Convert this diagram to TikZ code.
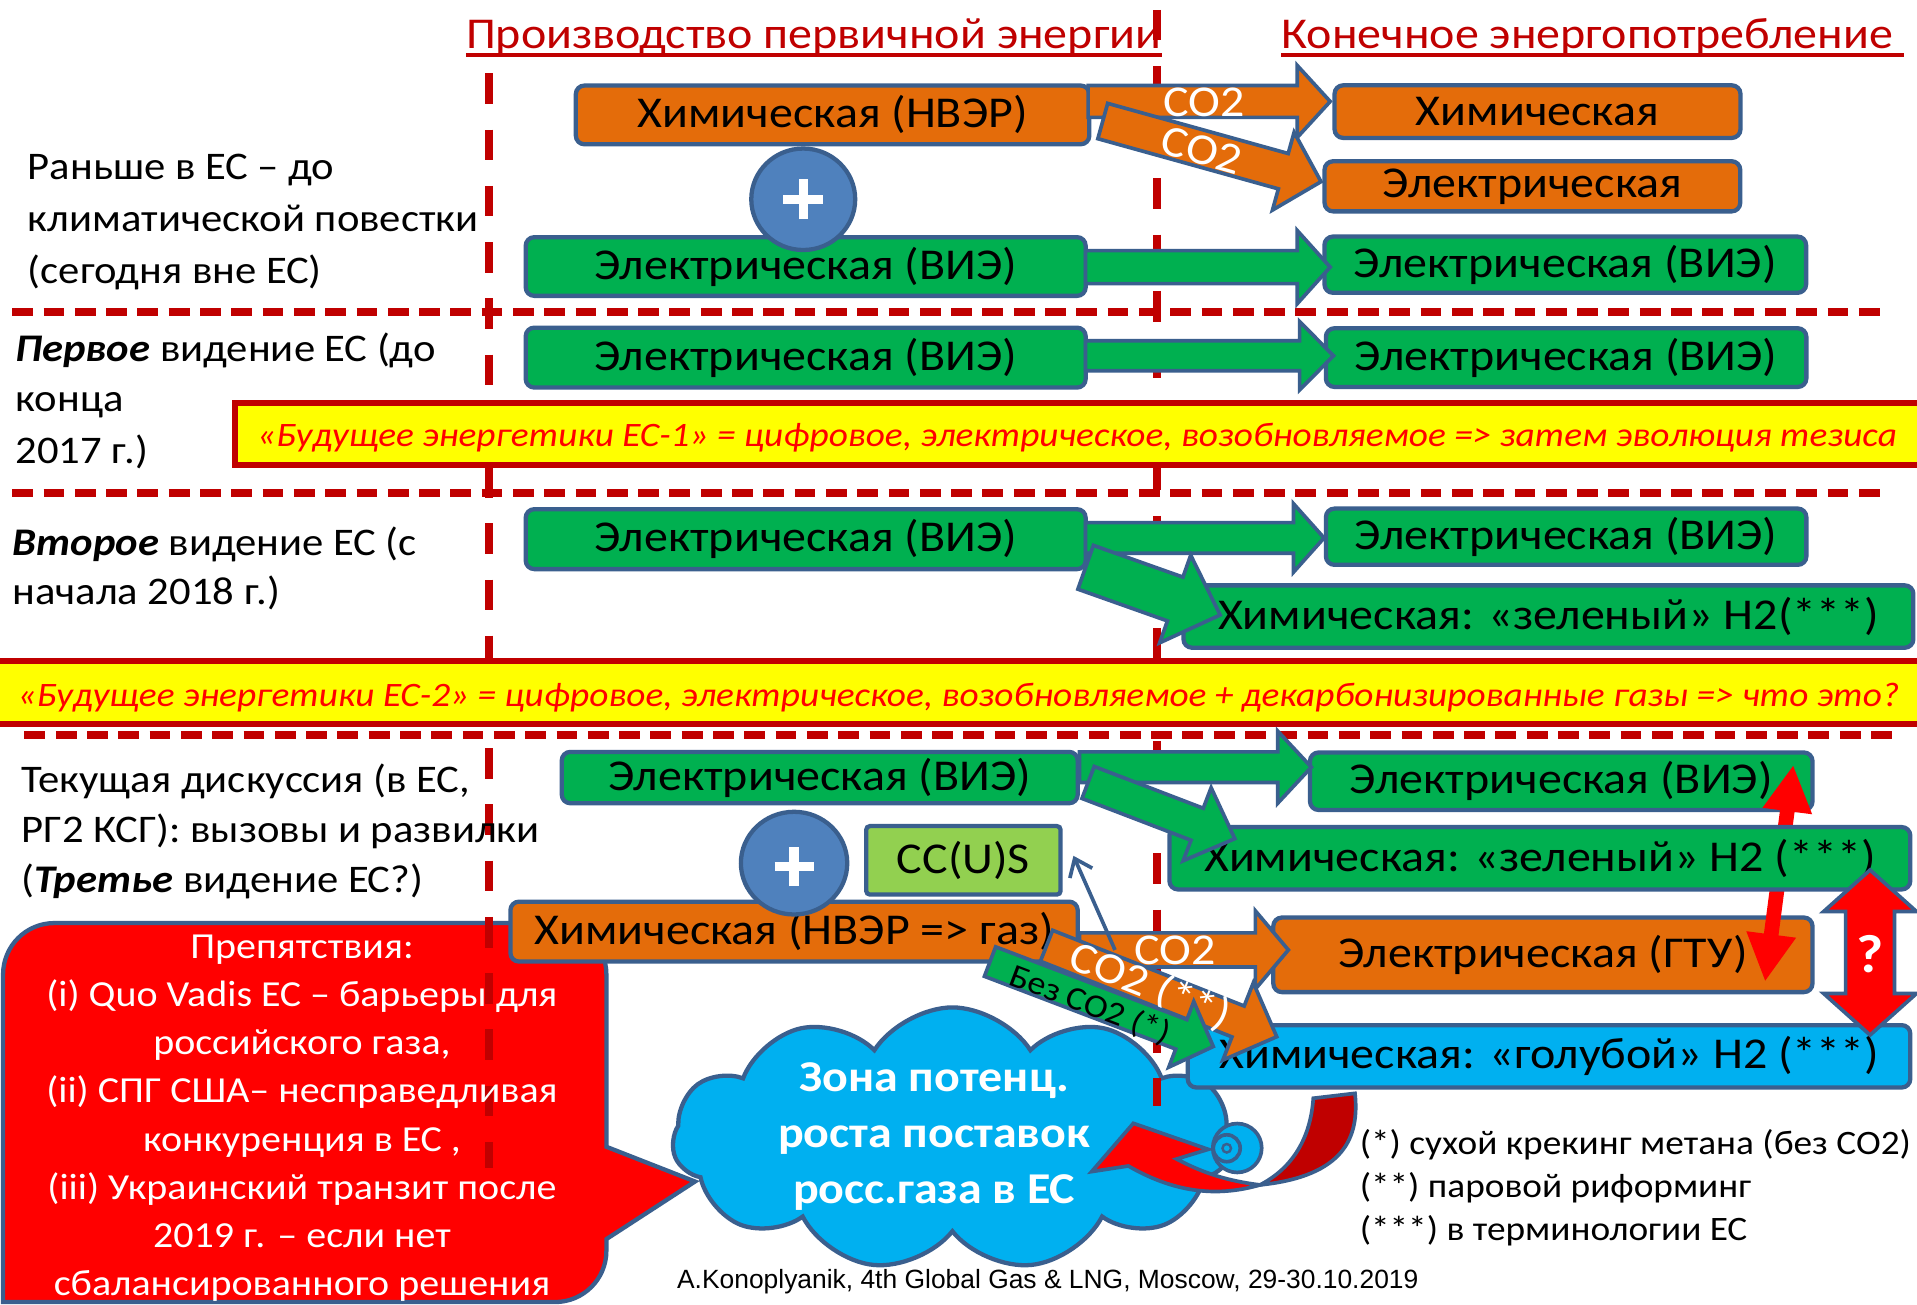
\documentclass[tikz,border=0pt]{standalone}
\usepackage{fontspec}
\setmainfont{Carlito}[FakeStretch=1.09]
\newfontfamily\arialfont{Liberation Sans}
\usetikzlibrary{shapes.geometric,shapes.symbols,arrows.meta,calc}
\definecolor{orng}{HTML}{E46C0A}
\definecolor{grn}{HTML}{00B050}
\definecolor{lgrn}{HTML}{92D050}
\definecolor{cyanb}{HTML}{00B0F0}
\definecolor{pblue}{HTML}{4F81BD}
\definecolor{bord}{HTML}{3A5F8E}
\definecolor{dred}{HTML}{C00000}
\definecolor{bred}{HTML}{FF0000}
\definecolor{yel}{HTML}{FFFF00}
\newcommand\myfs[1]{\fontsize{#1}{#1}\selectfont}
% block arrow: from, to, shaft half width, head half width, head length, fill
\newcommand\barrow[6]{%
  \path (#1); \pgfgetlastxy{\bax}{\bay}%
  \path (#2); \pgfgetlastxy{\bbx}{\bby}%
  \pgfmathsetmacro\bang{atan2((\bby)-(\bay),(\bbx)-(\bax))}%
  \pgfmathsetmacro\blen{veclen((\bbx)-(\bax),(\bby)-(\bay))}%
  \draw[blockarrow, fill=#6, shift={(\bax,\bay)}, rotate=\bang]
    (0,#3) -- ({\blen-#5},#3) -- ({\blen-#5},#4) -- (\blen,0) -- ({\blen-#5},-#4) -- ({\blen-#5},-#3) -- (0,-#3) -- cycle;%
}
% double block arrow
\newcommand\dbarrow[6]{%
  \path (#1); \pgfgetlastxy{\bax}{\bay}%
  \path (#2); \pgfgetlastxy{\bbx}{\bby}%
  \pgfmathsetmacro\bang{atan2((\bby)-(\bay),(\bbx)-(\bax))}%
  \pgfmathsetmacro\blen{veclen((\bbx)-(\bax),(\bby)-(\bay))}%
  \draw[blockarrow, fill=#6, shift={(\bax,\bay)}, rotate=\bang]
    (0,0) -- (#5,#4) -- (#5,#3) -- ({\blen-#5},#3) -- ({\blen-#5},#4) -- (\blen,0) -- ({\blen-#5},-#4) -- ({\blen-#5},-#3) -- (#5,-#3) -- (#5,-#4) -- cycle;%
}
\tikzset{
  box/.style={draw=bord, line width=3.5pt, rounded corners=7pt, inner sep=0pt, text=black, font=\myfs{36}},
  obox/.style={box, fill=orng},
  gbox/.style={box, fill=grn},
  bbox/.style={box, fill=cyanb},
  plusc/.style={ellipse, fill=pblue, draw=bord, line width=3.5pt, inner sep=0pt},
  plusbar/.style={white, line width=7.5pt},
  blockarrow/.style={draw=bord, line width=3pt},
  hdash/.style={dred, line width=6.3pt, dash pattern=on 17pt off 8.6pt},
  vdash/.style={dred, line width=6.5pt, dash pattern=on 25pt off 21pt},
  lefttxt/.style={anchor=base west, inner sep=0pt, font=\myfs{32}},
  ttl/.style={anchor=base west, inner sep=0pt, text=dred, font=\myfs{36}},
  arrtxt/.style={text=white, font=\myfs{36}, inner sep=0pt},
  bantxt/.style={anchor=base, inner sep=0pt, text=bred, font=\myfs{28}\itshape},
  calltxt/.style={anchor=base, inner sep=0pt, text=white, font=\myfs{30}},
  cloudtxt/.style={anchor=base, inner sep=0pt, text=white, font=\myfs{36}\bfseries},
  notetxt/.style={anchor=base west, inner sep=0pt, font=\myfs{28}},
  cloudarc/.style={draw=bord, line width=3pt},
}
\begin{document}
\begin{tikzpicture}[x=1pt,y=-1pt]
\useasboundingbox[fill=white] (0,0) rectangle (1568,1067);

% ---------- cloud and callout (background) ----------
\node[cloud, cloud puffs=11, cloud puff arc=115, aspect=2.1, minimum width=458pt, minimum height=215pt,
      fill=cyanb, draw=bord, line width=3.5pt] (cloud) at (779,931.5) {};
\draw[fill=bred, draw=bord, line width=3.5pt]
  (2.5,1065) [rounded corners=42pt] -- (2.5,755) -- (496,755) [sharp corners] -- (496,938)
  -- (568.5,966.4) -- (496,1013.5) [rounded corners=42pt] -- (496,1065) [sharp corners] -- cycle;

% ---------- separators ----------
\draw[vdash] (400,60) -- (400,955);
\draw[vdash] (946,8) -- (946,905);
\draw[hdash] (10,255) -- (1544,255);
\draw[hdash] (10,403) -- (1544,403);
\draw[hdash] (20,601) -- (1552,601);

% ---------- banners ----------
\draw[fill=yel, draw=dred, line width=5pt] (192.5,329.5) rectangle (1580,380.5);
\node[bantxt] (ban1) at (881,365.4) {«Будущее энергетики ЕС-1» = цифровое, электрическое, возобновляемое => затем эволюция тезиса};
\draw[fill=yel, draw=dred, line width=5pt] (-5,540.5) rectangle (1580,592.5);
\node[bantxt] (ban2) at (784,577.5) {«Будущее энергетики ЕС-2» = цифровое, электрическое, возобновляемое + декарбонизированные газы => что это?};

% ---------- titles ----------
\node[ttl] (T1) at (381,39.5) {Производство первичной энергии};
\draw[dred, line width=2.5pt] ([yshift=-5.5pt]T1.base west) -- ([yshift=-5.5pt]T1.base east);
\node[ttl] (T2) at (1048,39.5) {Конечное энергопотребление};
\draw[dred, line width=2.5pt] ([yshift=-5.5pt]T2.base west) -- ([yshift=-5.5pt,xshift=9pt]T2.base east);

% ---------- section 1 ----------
\node[lefttxt] (L1a) at (22.6,147) {Раньше в ЕС – до};
\node[lefttxt] (L1b) at (22.6,189.5) {климатической повестки};
\node[lefttxt] (L1c) at (22.6,231.7) {(сегодня вне ЕС)};

\node[obox, minimum width=420pt, minimum height=48pt] (A1) at (681,94) {Химическая (НВЭР)};
\node[gbox, minimum width=458pt, minimum height=48pt] (B1) at (659,218) {Электрическая (ВИЭ)};
\node[plusc, minimum width=85pt, minimum height=83pt] (P1) at (657,163) {};
\draw[plusbar] ([xshift=-16.5pt]P1.center) -- ([xshift=16.5pt]P1.center);
\draw[plusbar] ([yshift=-16.5pt]P1.center) -- ([yshift=16.5pt]P1.center);
\node[obox, minimum width=332pt, minimum height=43pt] (C1) at (1257.6,91.3) {Химическая};
\node[obox, minimum width=340pt, minimum height=41pt] (C2) at (1253.4,152.4) {Электрическая};
\node[gbox, minimum width=394pt, minimum height=46pt] (C3) at (1280.3,216.5) {Электрическая (ВИЭ)};

\coordinate (a1s) at (890,83); \coordinate (a1e) at (1088,83);
\barrow{a1s}{a1e}{13}{29.5}{27}{orng}
\coordinate (a2s) at (902,99); \coordinate (a2e) at (1080.5,148.6);
\barrow{a2s}{a2e}{15}{33}{32}{orng}
\node[arrtxt] (co2a) at (985,84) {CO2};
\node[arrtxt, rotate=-16] (co2b) at (983,123) {CO2};
\coordinate (a3s) at (888,218.5); \coordinate (a3e) at (1088,218.5);
\barrow{a3s}{a3e}{13.5}{30}{27}{grn}

% ---------- section 2 ----------
\node[lefttxt] (L2a) at (12.5,295.8) {\textbf{\textit{Первое}} видение ЕС (до};
\node[lefttxt] (L2b) at (12.5,336.7) {конца};
\node[lefttxt] (L2c) at (12.5,379) {2017 г.)};
\node[gbox, minimum width=458pt, minimum height=49pt] (B2) at (659,292.5) {Электрическая (ВИЭ)};
\node[gbox, minimum width=393pt, minimum height=48pt] (C4) at (1281,292.5) {Электрическая (ВИЭ)};
\coordinate (a4s) at (888,291); \coordinate (a4e) at (1090.7,291);
\barrow{a4s}{a4e}{12.3}{28}{27.7}{grn}

% ---------- section 3 ----------
\node[lefttxt] (L3a) at (10,454) {\textbf{\textit{Второе}} видение ЕС (с};
\node[lefttxt] (L3b) at (10,494.8) {начала 2018 г.)};
\node[gbox, minimum width=458pt, minimum height=49pt] (B3) at (659,441) {Электрическая (ВИЭ)};
\node[gbox, minimum width=393pt, minimum height=46pt] (C5) at (1281,439) {Электрическая (ВИЭ)};
\node[gbox, minimum width=597pt, minimum height=51pt] (C6) at (1266.5,504.3) {Химическая: «зеленый» H2(***)};
\coordinate (a5s) at (888,440); \coordinate (a5e) at (1083,440);
\barrow{a5s}{a5e}{12.5}{28}{25}{grn}
\coordinate (a6s) at (888,464); \coordinate (a6e) at (998,503);
\barrow{a6s}{a6e}{19}{38}{39}{grn}

% ---------- section 4 ----------
\node[lefttxt] (L4a) at (17.5,648) {Текущая дискуссия (в ЕС,};
\node[lefttxt] (L4b) at (17.5,689) {РГ2 КСГ): вызовы и развилки};
\node[lefttxt] (L4c) at (17.5,730) {(\textbf{\textit{Третье}} видение ЕС?)};

\node[gbox, minimum width=422pt, minimum height=42pt] (B4) at (670.5,636) {Электрическая (ВИЭ)};
\node[obox, minimum width=464pt, minimum height=49pt] (O1) at (649.5,762) {Химическая (НВЭР => газ)};
\node[plusc, minimum width=87pt, minimum height=84pt] (P2) at (649.5,706) {};
\draw[plusbar] ([xshift=-16pt,yshift=-3pt]P2.center) -- ([xshift=16pt,yshift=-3pt]P2.center);
\draw[plusbar] ([yshift=-19pt]P2.center) -- ([yshift=13pt]P2.center);
\node[box, fill=lgrn, rounded corners=3pt, minimum width=159pt, minimum height=56pt] (CCS) at (788,703.7) {CC(U)S};

\node[gbox, minimum width=411pt, minimum height=47pt] (C7) at (1277,639) {Электрическая (ВИЭ)};
\node[obox, minimum width=441pt, minimum height=61pt] (C9) at (1262,781) {Электрическая (ГТУ)};
\coordinate (rt1) at (1466.8,625.7); \coordinate (rt2) at (1443.7,803);
\draw[bred, line width=12pt, {Triangle[length=38pt,width=38pt]}-{Triangle[length=39pt,width=38pt]}] (rt1) -- (rt2);
\node[gbox, minimum width=606pt, minimum height=51pt] (C8) at (1259.5,702) {Химическая: «зеленый» H2 (***)};
\node[bbox, minimum width=591pt, minimum height=51pt] (C10) at (1267,864) {Химическая: «голубой» H2 (***)};

\coordinate (a7s) at (883,627.5); \coordinate (a7e) at (1072.6,627.5);
\barrow{a7s}{a7e}{12.5}{29.5}{27.5}{grn}
\coordinate (a8s) at (890,640); \coordinate (a8e) at (1010,686);
\barrow{a8s}{a8e}{14}{32}{33}{grn}
\coordinate (a9s) at (883,777); \coordinate (a9e) at (1053.8,777);
\barrow{a9s}{a9e}{14}{32}{27}{orng}
\node[arrtxt] (co2c) at (961,777) {CO2};
\coordinate (ths) at (912,777); \coordinate (the) at (878,700);
\draw[bord, line width=3pt, -{Straight Barb[length=13pt,width=20pt]}] (ths) -- (the);
\coordinate (a10s) at (856,773.6); \coordinate (a10e) at (1044.3,848);
\barrow{a10s}{a10e}{13.6}{34}{34}{orng}
\node[arrtxt, rotate=-21.6] (co2d) at (940.6,807) {CO2 (**)};
\coordinate (a11s) at (809.8,786.5); \coordinate (a11e) at (992.4,856);
\barrow{a11s}{a11e}{12.9}{28.7}{28}{grn}
\node[inner sep=0pt, font=\myfs{27}, rotate=-20.8] (bez) at (891.5,822) {Без CO2 (*)};

\coordinate (q1) at (1529.6,711.6); \coordinate (q2) at (1529.6,846.6);
\dbarrow{q1}{q2}{20}{38}{34}{bred}
\node[inner sep=0pt, text=white, font=\myfs{44}\bfseries] (qm) at (1529.6,780) {?};

% ---------- curved red arrow and cloud bubbles ----------
\draw[fill=dred, draw=bord, line width=3pt]
  (1074.2,898.3) -- (1108.3,894.3) .. controls (1112,930) and (1100,962) .. (1030.6,969.2)
  .. controls (1058,955) and (1072,930) .. (1074.2,898.3) -- cycle;
\draw[fill=bred, draw=bord, line width=3pt]
  (1030.6,969.2) .. controls (1000,978) and (965,978) .. (922.9,953.7)
  -- (892.9,958.3) -- (927,918.8) -- (988.3,940.1) -- (962.4,948)
  .. controls (985,960) and (1005,966) .. (1030.6,969.2) -- cycle;
\node[circle, fill=cyanb, draw=bord, line width=3pt, minimum size=40pt, inner sep=0pt] (bub1) at (1012,939) {};
\node[circle, draw=bord, line width=3pt, minimum size=22pt, inner sep=0pt] (bub2) at (1003.4,939.2) {};
\node[circle, fill=cyanb, draw=bord, line width=2pt, minimum size=7pt, inner sep=0pt] (bub3) at (1003.4,939.2) {};

% ---------- texts over shapes ----------
\node[cloudtxt] (cz1) at (764,893) {Зона потенц.};
\node[cloudtxt] (cz2) at (764,938.5) {роста поставок};
\node[cloudtxt] (cz3) at (764,984) {росс.газа в ЕС};

\node[calltxt] (k1) at (247,784) {Препятствия:};
\node[calltxt] (k2) at (247,823.5) {(i) Quo Vadis ЕС – барьеры для};
\node[calltxt] (k3) at (247,862.8) {российского газа,};
\node[calltxt] (k4) at (247,902) {(ii) СПГ США– несправедливая};
\node[calltxt] (k5) at (247,941.5) {конкуренция в ЕС ,};
\node[calltxt] (k6) at (247,981) {(iii) Украинский транзит после};
\node[calltxt] (k7) at (247,1020) {2019 г. – если нет};
\node[calltxt] (k8) at (247,1059.5) {сбалансированного решения};

\node[notetxt] (n1) at (1112,944.3) {(*) сухой крекинг метана (без CO2)};
\node[notetxt] (n2) at (1112,979.5) {(**) паровой риформинг};
\node[notetxt] (n3) at (1112,1015) {(***) в терминологии ЕС};

\node[anchor=base, inner sep=0pt, font=\arialfont\myfs{21.6}] (foot) at (857,1053.6) {A.Konoplyanik, 4th Global Gas \& LNG, Moscow, 29-30.10.2019};
\end{tikzpicture}
\end{document}
